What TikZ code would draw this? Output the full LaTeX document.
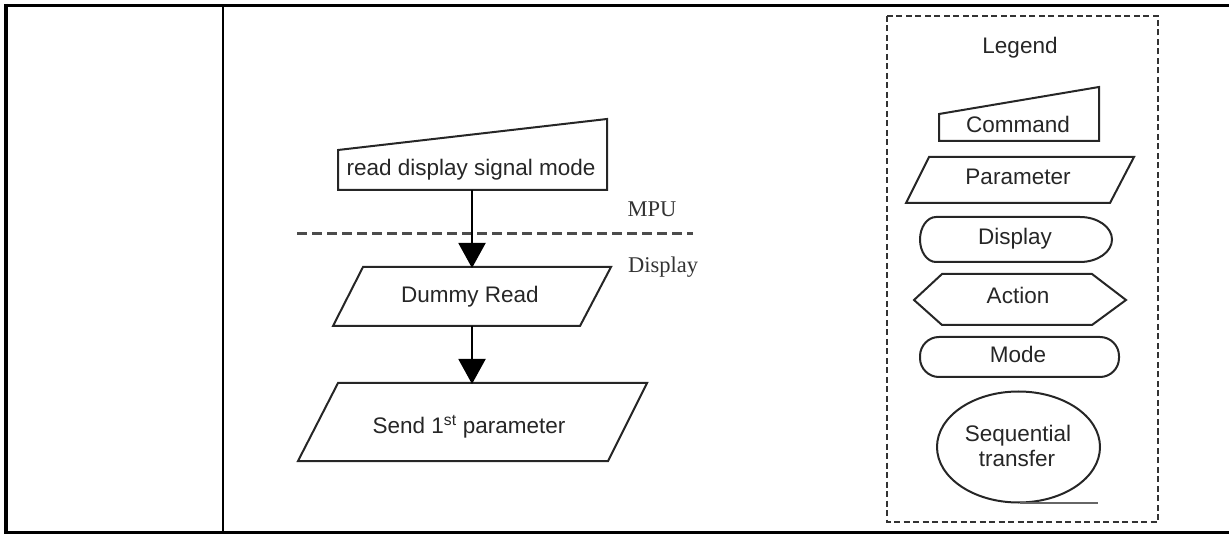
\documentclass[tikz,border=0pt]{standalone}
\usepackage{fontspec}
\setmainfont{Liberation Sans}
\newfontfamily\serifont{Liberation Serif}
\usetikzlibrary{arrows.meta}
\begin{document}
\begin{tikzpicture}[x=1pt,y=-1pt,
  shp/.style={draw=black!85,line width=2pt,line join=miter},
  lbl/.style={font=\fontsize{22.5}{27}\selectfont,text=black!85,inner sep=0pt,anchor=base},
  slbl/.style={font=\serifont\fontsize{22.5}{27}\selectfont,text=black!80,inner sep=0pt,anchor=base},
  arr/.style={draw=black,line width=2pt,-{Triangle[width=27pt,length=25pt]}},
  framel/.style={draw=black,line width=3pt}]
\useasboundingbox (0,0) rectangle (1229,534);
% table frame
\draw[framel] (4,5.5) -- (1229,5.5);
\draw[framel] (4,532) -- (1229,532);
\draw[draw=black,line width=4pt] (6,4) -- (6,534);
\draw[draw=black,line width=2pt] (223,5.5) -- (223,532);
% main flow
\draw[shp] (338,150) -- (607,119) -- (607,190) -- (338,190) -- cycle;
\node[lbl] (cmd) at (471,176) {read display signal mode};
\coordinate (cmdB) at (472,190);
\draw[draw=black!70,line width=3pt,dash pattern=on 10pt off 5pt] (297,234) -- (693,234);
\node[slbl] (mpu) at (652,217) {MPU};
\node[slbl] (disp) at (663,273) {Display};
\draw[shp] (363,267) -- (611,267) -- (580,326) -- (333,326) -- cycle;
\node[lbl] (dummy) at (470,303) {Dummy Read};
\coordinate (dumT) at (472,268);
\coordinate (dumB) at (472,326);
\draw[shp] (338,383) -- (647,383) -- (608,461) -- (298,461) -- cycle;
\node[lbl] (send) at (469,433) {Send 1\textsuperscript{st} parameter};
\coordinate (sendT) at (472,384);
\draw[arr] (cmdB) -- (dumT);
\draw[arr] (dumB) -- (sendT);
% legend
\draw[draw=black!80,line width=2.3pt,dash pattern=on 6pt off 3.5pt] (887,16) rectangle (1158,522);
\node[lbl] (legend) at (1020,54) {Legend};
\draw[shp] (939,114) -- (1099,87) -- (1099,141) -- (939,141) -- cycle;
\node[lbl] (lcmd) at (1018,133) {Command};
\draw[shp] (929,157) -- (1134,157) -- (1110,203) -- (906,203) -- cycle;
\node[lbl] (lpar) at (1018,185) {Parameter};
\draw[shp] (936,217) -- (1080,217) arc[start angle=-90,end angle=90,x radius=32,y radius=22.5] -- (936,262) arc[start angle=90,end angle=270,x radius=16,y radius=22.5] -- cycle;
\node[lbl] (ldisp) at (1015,245) {Display};
\draw[shp] (914,300) -- (942,274) -- (1092,274) -- (1126,300) -- (1092,325) -- (942,325) -- cycle;
\node[lbl] (lact) at (1018,304) {Action};
\draw[shp,rounded corners=19pt] (920,337) rectangle (1119,377);
\node[lbl] (lmode) at (1018,363) {Mode};
\draw[shp] (1018.5,447) ellipse[x radius=81.5,y radius=55.5];
\node[lbl] (lseq1) at (1018,441) {Sequential};
\node[lbl] (lseq2) at (1017,466) {transfer};
\coordinate (seqB) at (1020,503);
\coordinate (seqE) at (1098,503);
\draw[draw=black!60,line width=2.8pt] (seqB) -- (seqE);
\end{tikzpicture}
\end{document}
